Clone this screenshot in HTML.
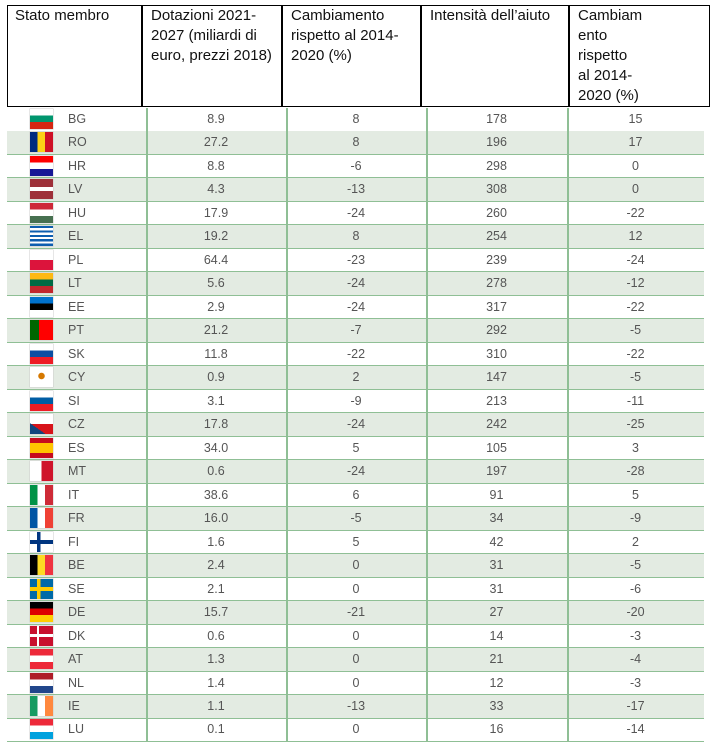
<!DOCTYPE html>
<html><head><meta charset="utf-8"><style>
body{margin:0;width:714px;height:753px;background:#fff;position:relative;overflow:hidden;font-family:"Liberation Sans",sans-serif}
.hd{position:absolute;top:5px;height:102px;border:1.5px solid #000;box-sizing:border-box}
.ht{position:absolute;top:6px;font-size:15px;line-height:20px;color:#111}
.row{position:absolute;left:7px;width:697px;height:23.5px;border-bottom:1.5px solid #8fbf95;box-sizing:border-box}
.sh{background:#e3ebe2}
.c{position:absolute;top:0;height:22px;line-height:23px;text-align:center;font-size:12.5px;color:#555}
.code{position:absolute;left:61px;top:0;line-height:23px;font-size:12.5px;color:#555}
.fl{position:absolute;left:23px;top:1px;width:23px;height:20px;box-shadow:0 0 0 0.5px #ccc}
.vl{position:absolute;top:108px;height:634px;width:1.5px;background:#8fbf95}
</style></head><body>
<div class="hd" style="left:7px;width:703px"></div>
<div style="position:absolute;left:141px;top:5px;width:1.5px;height:102px;background:#000"></div>
<div style="position:absolute;left:281px;top:5px;width:1.5px;height:102px;background:#000"></div>
<div style="position:absolute;left:420px;top:5px;width:1.5px;height:102px;background:#000"></div>
<div style="position:absolute;left:568px;top:5px;width:1.5px;height:102px;background:#000"></div>
<div class="ht" style="left:15px">Stato membro</div>
<div class="ht" style="left:151px">Dotazioni 2021-<br>2027 (miliardi di<br>euro, prezzi 2018)</div>
<div class="ht" style="left:291px">Cambiamento<br>rispetto al 2014-<br>2020 (%)</div>
<div class="ht" style="left:430px">Intensità dell’aiuto</div>
<div class="ht" style="left:578px">Cambiam<br>ento<br>rispetto<br>al 2014-<br>2020 (%)</div>
<div id="rows"></div>
<div class="vl" style="left:146px"></div>
<div class="vl" style="left:286px"></div>
<div class="vl" style="left:426px"></div>
<div class="vl" style="left:567px"></div>
<script>
var d=[["BG","8.9","8","178","15","linear-gradient(#fff 0 33%,#00966e 33% 66%,#d62612 66%)"],
["RO","27.2","8","196","17","linear-gradient(90deg,#002b7f 0 33%,#fcd116 33% 66%,#ce1126 66%)"],
["HR","8.8","-6","298","0","linear-gradient(#ff0000 0 33%,#fff 33% 66%,#171796 66%)"],
["LV","4.3","-13","308","0","linear-gradient(#9e3039 0 40%,#fff 40% 60%,#9e3039 60%)"],
["HU","17.9","-24","260","-22","linear-gradient(#ce2939 0 33%,#fff 33% 66%,#477050 66%)"],
["EL","19.2","8","254","12","repeating-linear-gradient(#0d5eaf 0 2.2px,#fff 2.2px 4.4px)"],
["PL","64.4","-23","239","-24","linear-gradient(#fff 0 50%,#dc143c 50%)"],
["LT","5.6","-24","278","-12","linear-gradient(#fdb913 0 33%,#006a44 33% 66%,#c1272d 66%)"],
["EE","2.9","-24","317","-22","linear-gradient(#0072ce 0 33%,#000 33% 66%,#fff 66%)"],
["PT","21.2","-7","292","-5","linear-gradient(90deg,#006600 0 40%,#ff0000 40%)"],
["SK","11.8","-22","310","-22","linear-gradient(#fff 0 33%,#0b4ea2 33% 66%,#ee1c25 66%)"],
["CY","0.9","2","147","-5","radial-gradient(circle at 50% 45%,#d57800 0 3px,#fff 3.5px)"],
["SI","3.1","-9","213","-11","linear-gradient(#fff 0 33%,#005da4 33% 66%,#ed1c24 66%)"],
["CZ","17.8","-24","242","-25","linear-gradient(35deg,#11457e 0 30%,transparent 30%),linear-gradient(#fff 0 50%,#d7141a 50%)"],
["ES","34.0","5","105","3","linear-gradient(#c60b1e 0 25%,#ffc400 25% 75%,#c60b1e 75%)"],
["MT","0.6","-24","197","-28","linear-gradient(90deg,#fff 0 50%,#cf142b 50%)"],
["IT","38.6","6","91","5","linear-gradient(90deg,#009246 0 33%,#fff 33% 66%,#ce2b37 66%)"],
["FR","16.0","-5","34","-9","linear-gradient(90deg,#0055a4 0 33%,#fff 33% 66%,#ef4135 66%)"],
["FI","1.6","5","42","2","linear-gradient(transparent 0 40%,#003580 40% 60%,transparent 60%),linear-gradient(90deg,#fff 0 30%,#003580 30% 45%,#fff 45%)"],
["BE","2.4","0","31","-5","linear-gradient(90deg,#000 0 33%,#fdda24 33% 66%,#ef3340 66%)"],
["SE","2.1","0","31","-6","linear-gradient(transparent 0 40%,#fecc00 40% 60%,transparent 60%),linear-gradient(90deg,#006aa7 0 30%,#fecc00 30% 45%,#006aa7 45%)"],
["DE","15.7","-21","27","-20","linear-gradient(#000 0 33%,#dd0000 33% 66%,#ffce00 66%)"],
["DK","0.6","0","14","-3","linear-gradient(transparent 0 40%,#fff 40% 55%,transparent 55%),linear-gradient(90deg,#c8102e 0 30%,#fff 30% 40%,#c8102e 40%)"],
["AT","1.3","0","21","-4","linear-gradient(#ed2939 0 33%,#fff 33% 66%,#ed2939 66%)"],
["NL","1.4","0","12","-3","linear-gradient(#ae1c28 0 33%,#fff 33% 66%,#21468b 66%)"],
["IE","1.1","-13","33","-17","linear-gradient(90deg,#169b62 0 33%,#fff 33% 66%,#ff883e 66%)"],
["LU","0.1","0","16","-14","linear-gradient(#ed2939 0 33%,#fff 33% 66%,#00a1de 66%)"]];
var h="";
for(var i=0;i<d.length;i++){var r=d[i],t=108+i*23.48;
h+='<div class="row'+(i%2?' sh':'')+'" style="top:'+t+'px"><div class="fl" style="background:'+r[5]+'"></div><div class="code">'+r[0]+'</div>'+
'<div class="c" style="left:139px;width:140px">'+r[1]+'</div><div class="c" style="left:279px;width:140px">'+r[2]+'</div><div class="c" style="left:419px;width:141px">'+r[3]+'</div><div class="c" style="left:560px;width:137px">'+r[4]+'</div></div>';}
document.getElementById("rows").innerHTML=h;
</script>
</body></html>
